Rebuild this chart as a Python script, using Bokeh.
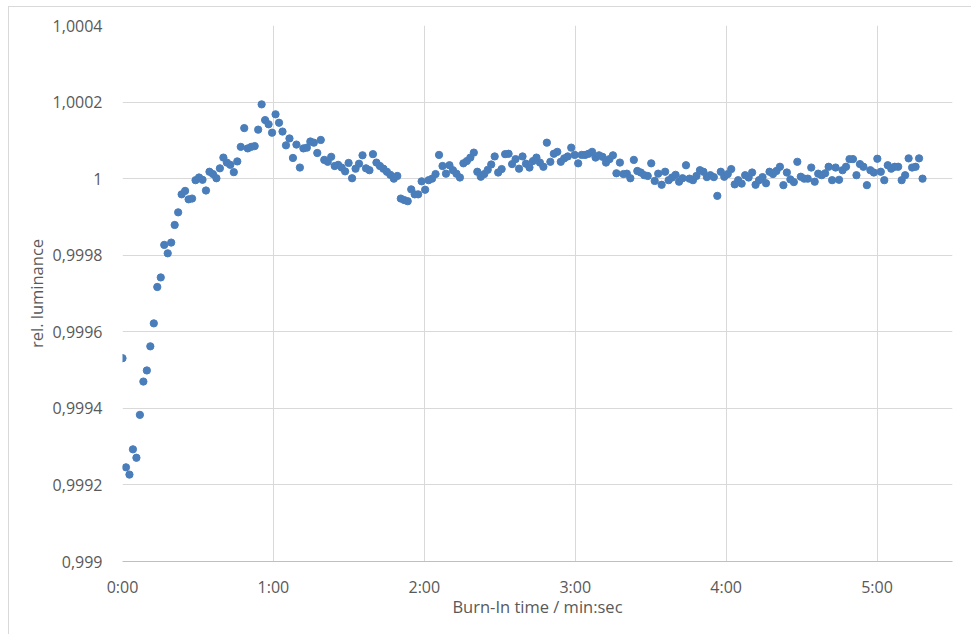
import numpy as np
from bokeh.plotting import figure
from bokeh.models import FixedTicker, CustomJSTickFormatter, Range1d, ColumnDataSource
from bokeh.embed import file_html
from bokeh.resources import INLINE

# ---- data ----
sample_interval_s = 1.383   # regular sampling interval of the measurement
rel_luminance = [
    0.999531, 0.999246, 0.999227, 0.999293, 0.999271, 0.999383, 0.999470, 0.999499, 0.999562, 0.999622,
    0.999717, 0.999742, 0.999827, 0.999805, 0.999833, 0.999879, 0.999912, 0.999959, 0.999968, 0.999946,
    0.999948, 0.999996, 1.000003, 0.999997, 0.999969, 1.000018, 1.000012, 1.000001, 1.000027, 1.000055,
    1.000042, 1.000036, 1.000017, 1.000045, 1.000083, 1.000132, 1.000079, 1.000083, 1.000085, 1.000128,
    1.000194, 1.000153, 1.000142, 1.000120, 1.000168, 1.000146, 1.000123, 1.000087, 1.000105, 1.000054,
    1.000089, 1.000029, 1.000079, 1.000081, 1.000097, 1.000094, 1.000067, 1.000101, 1.000049, 1.000044,
    1.000057, 1.000033, 1.000036, 1.000029, 1.000019, 1.000041, 1.000001, 1.000026, 1.000039, 1.000061,
    1.000027, 1.000022, 1.000064, 1.000042, 1.000033, 1.000026, 1.000018, 1.000010, 1.000000, 1.000007,
    0.999948, 0.999944, 0.999941, 0.999972, 0.999959, 0.999959, 0.999993, 0.999971, 0.999996, 1.000000,
    1.000012, 1.000062, 1.000033, 1.000013, 1.000035, 1.000022, 1.000013, 1.000003, 1.000040, 1.000046,
    1.000055, 1.000068, 1.000018, 1.000005, 1.000012, 1.000023, 1.000037, 1.000058, 1.000016, 1.000025,
    1.000064, 1.000065, 1.000038, 1.000051, 1.000026, 1.000058, 1.000039, 1.000029, 1.000046, 1.000055,
    1.000042, 1.000031, 1.000094, 1.000044, 1.000065, 1.000070, 1.000044, 1.000053, 1.000058, 1.000081,
    1.000062, 1.000040, 1.000062, 1.000062, 1.000065, 1.000070, 1.000055, 1.000061, 1.000057, 1.000042,
    1.000051, 1.000061, 1.000014, 1.000042, 1.000012, 1.000013, 1.000001, 1.000049, 1.000020, 1.000016,
    1.000009, 1.000007, 1.000040, 0.999994, 1.000013, 0.999984, 1.000018, 0.999996, 1.000003, 1.000010,
    0.999992, 1.000001, 1.000035, 1.000000, 0.999996, 1.000007, 1.000022, 1.000018, 1.000004, 1.000009,
    1.000004, 0.999955, 1.000018, 1.000005, 1.000012, 1.000025, 0.999985, 0.999996, 0.999987, 1.000009,
    1.000003, 1.000016, 0.999984, 0.999996, 1.000004, 0.999988, 1.000018, 1.000012, 1.000020, 1.000031,
    0.999983, 1.000016, 0.999998, 0.999991, 1.000044, 1.000005, 1.000000, 1.000000, 1.000029, 0.999992,
    1.000013, 1.000009, 1.000014, 1.000031, 0.999996, 1.000029, 0.999997, 1.000022, 1.000031, 1.000051,
    1.000051, 1.000009, 1.000038, 1.000031, 0.999983, 1.000022, 1.000016, 1.000052, 1.000018, 0.999996,
    1.000035, 1.000026, 1.000031, 1.000031, 0.999996, 1.000009, 1.000053, 1.000029, 1.000031, 1.000053,
    1.000000,
]
time_s = np.arange(len(rel_luminance)) * sample_interval_s

x_ticks = [0, 60, 120, 180, 240, 300]
y_ticks = [0.999, 0.9992, 0.9994, 0.9996, 0.9998, 1.0, 1.0002, 1.0004]
x_title = "Burn-In time / min:sec"
y_title = "rel. luminance"

FONT = "Open Sans"
TXT = "#595959"

src = ColumnDataSource(dict(t=time_s, y=rel_luminance))

p = figure(width=963, height=628, output_backend="svg", toolbar_location=None,
           x_range=Range1d(0, 330), y_range=Range1d(0.999, 1.0004),
           min_border_left=113, min_border_right=20, min_border_top=18, min_border_bottom=74)
p.margin = (6, 0, 0, 8)
p.outline_line_color = None
p.background_fill_color = "white"
p.border_fill_color = "white"

p.scatter("t", "y", source=src, size=7.3, fill_color="#4a7ebb", line_color="#4a7ebb")

p.xaxis.ticker = FixedTicker(ticks=x_ticks)
p.yaxis.ticker = FixedTicker(ticks=y_ticks)
p.xaxis.formatter = CustomJSTickFormatter(code="""
const m = Math.floor(tick / 60 + 1e-9);
const s = Math.round(tick - m * 60);
return m + ':' + (s < 10 ? '0' : '') + s;
""")
p.yaxis.formatter = CustomJSTickFormatter(code="""
let s = tick.toFixed(4).replace(/0+$/, '').replace(/\\.$/, '');
return s.replace('.', ',');
""")

for ax in (p.xaxis, p.yaxis):
    ax.major_tick_line_color = None
    ax.minor_tick_line_color = None
    ax.major_tick_in = 0
    ax.major_tick_out = 0
    ax.major_label_text_font = FONT
    ax.major_label_text_font_size = "16px"
    ax.major_label_text_color = TXT
    ax.axis_label_text_font = FONT
    ax.axis_label_text_font_size = "16.5px"
    ax.axis_label_text_color = TXT
    ax.axis_label_text_font_style = "normal"

p.xaxis.axis_line_color = "#bfbfbf"
p.yaxis.axis_line_color = None
p.xaxis.major_label_standoff = 14
p.yaxis.major_label_standoff = 20
p.xaxis.axis_label = x_title
p.yaxis.axis_label = y_title
p.xaxis.axis_label_standoff = -6
p.yaxis.axis_label_standoff = 2

p.xgrid.grid_line_color = "#d9d9d9"
p.ygrid.grid_line_color = "#d9d9d9"
p.xgrid.ticker = FixedTicker(ticks=x_ticks)
p.ygrid.ticker = FixedTicker(ticks=y_ticks)

p.styles = {"border-left": "1px solid #d9d9d9", "border-top": "1px solid #d9d9d9"}

open("out.html", "w").write(file_html(p, INLINE))
